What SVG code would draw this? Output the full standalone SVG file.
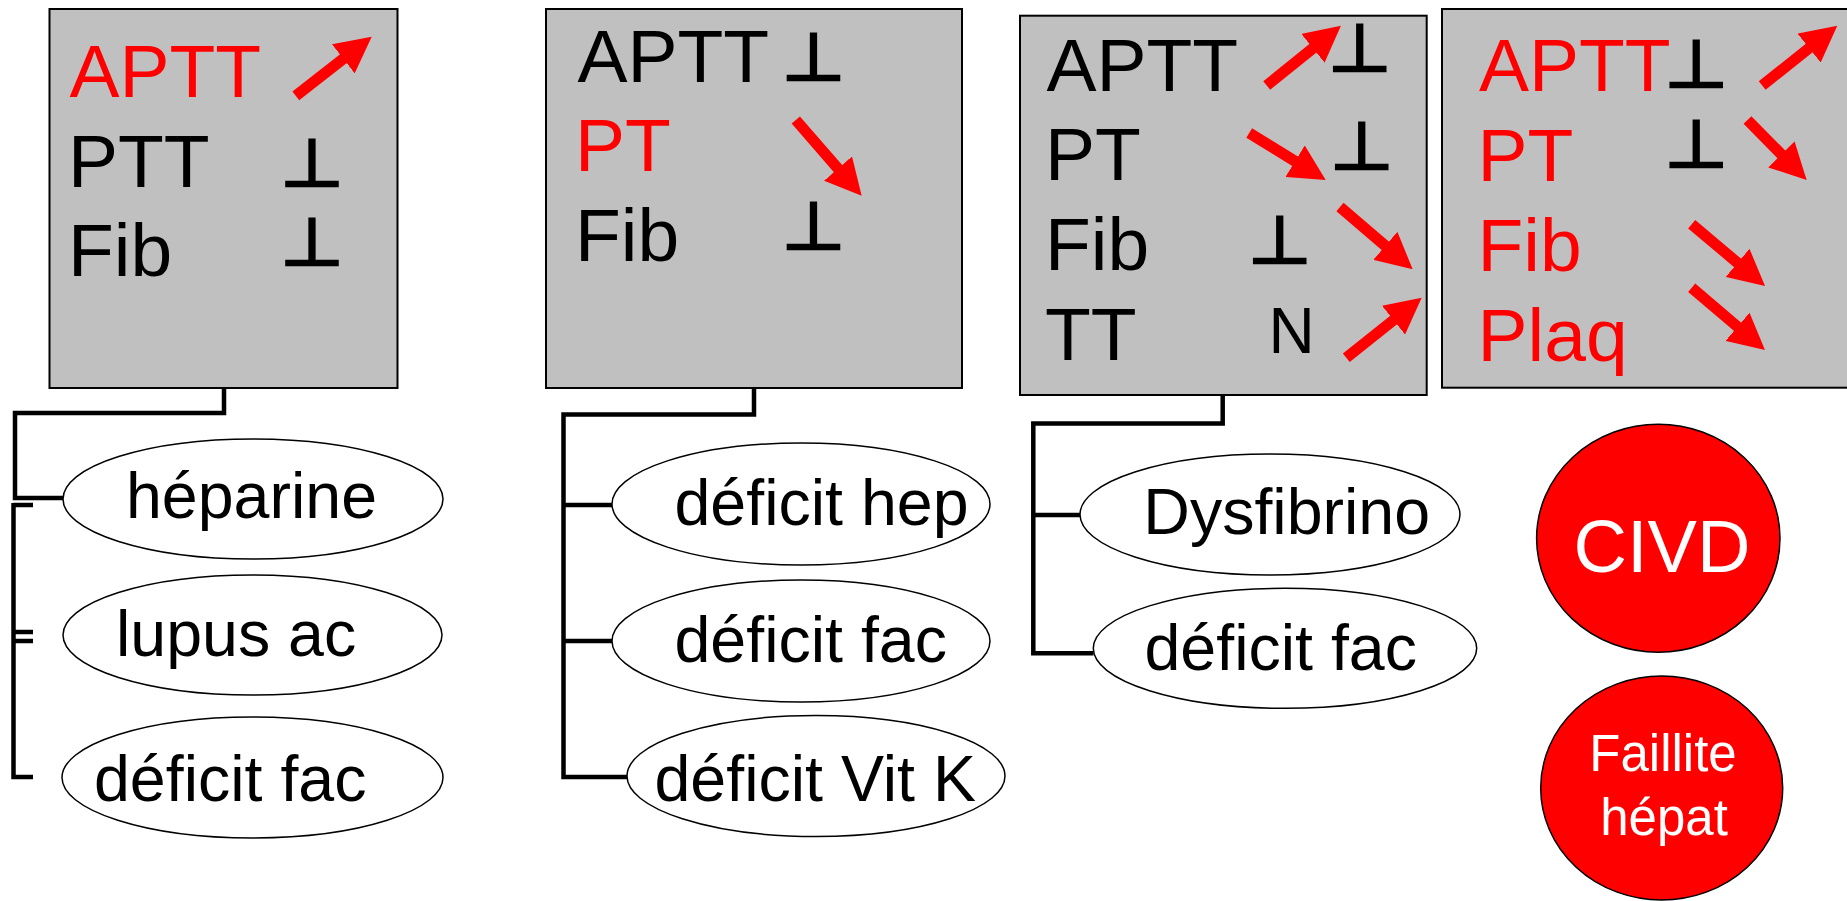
<svg xmlns="http://www.w3.org/2000/svg" width="1847" height="901" viewBox="0 0 1847 901">
<defs>
<style>
.box{fill:#C0C0C0;stroke:#000;stroke-width:2}
.lbl{font-family:"Liberation Sans",Arial,sans-serif;font-size:75px;fill:#000}
.red{fill:#FF0000}
.tack{font-family:"DejaVu Sans",sans-serif;font-size:66px;fill:#000;stroke:#000;stroke-width:2.5;text-anchor:middle}
.ell{fill:#fff;stroke:#000;stroke-width:1.5}
.etx{font-family:"Liberation Sans",Arial,sans-serif;font-size:64.5px;fill:#000}
.arr{stroke:#FF0000;stroke-width:11;fill:none;marker-end:url(#head)}
.con{fill:none;stroke:#000;stroke-width:4.5}
.circ{fill:#FF0000;stroke:#000;stroke-width:1.5}
.ctx{font-family:"Liberation Sans",Arial,sans-serif;fill:#fff;text-anchor:middle}
</style>
<marker id="head" markerUnits="userSpaceOnUse" viewBox="0 0 36 37" markerWidth="36" markerHeight="37" refX="1" refY="18.5" orient="auto">
<path d="M0,0 L36,18.5 L0,37 Z" fill="#FF0000"/>
</marker>
</defs>
<rect width="1847" height="901" fill="#fff"/>

<g id="connectors">
<path class="con" d="M224,388 V413 H15 V498 H63"/>
<path class="con" d="M13.5,503 V777 H33"/>
<path class="con" d="M13.5,505 H33"/>
<path class="con" d="M13.5,632 H33" stroke-width="3"/>
<path class="con" d="M13.5,641 H33" stroke-width="3"/>
<path class="con" d="M754,388 V414.5 H563.5 V777 H627"/>
<path class="con" d="M563.5,505 H612"/>
<path class="con" d="M563.5,641 H612"/>
<path class="con" d="M1222.7,395 V423.5 H1033.3 V653.3 H1093.5"/>
<path class="con" d="M1033.3,515 H1080"/>
</g>

<g id="box1">
<rect class="box" x="49.5" y="9" width="348" height="379"/>
<text class="lbl red" x="69.5" y="97.3">APTT</text>
<text class="lbl" x="68" y="187">PTT</text>
<text class="lbl" x="68" y="276">Fib</text>
<line class="arr" x1="295.8" y1="95.8" x2="344.1" y2="58.2"/>
<text class="tack" transform="translate(311.8,185.5) scale(1.1,1)">⊥</text>
<text class="tack" transform="translate(311.8,264.5) scale(1.1,1)">⊥</text>
</g>

<g id="box2">
<rect class="box" x="546" y="9" width="416" height="379"/>
<text class="lbl" x="577.5" y="81.7">APTT</text>
<text class="lbl red" x="575" y="171">PT</text>
<text class="lbl" x="575" y="260.7">Fib</text>
<line class="arr" x1="795.8" y1="120" x2="838.7" y2="169.3"/>
<text class="tack" transform="translate(813.3,79.5) scale(1.1,1)">⊥</text>
<text class="tack" transform="translate(813.3,249) scale(1.1,1)">⊥</text>
</g>

<g id="box3">
<rect class="box" x="1020" y="15.7" width="406.7" height="379.3"/>
<text class="lbl" x="1046.5" y="90.7">APTT</text>
<text class="lbl" x="1045" y="180">PT</text>
<text class="lbl" x="1045" y="270">Fib</text>
<text class="lbl" x="1045" y="360">TT</text>
<text class="etx" x="1268.5" y="352.7" style="font-size:64px">N</text>
<line class="arr" x1="1266.7" y1="85.5" x2="1313.7" y2="47.6"/>
<line class="arr" x1="1249.2" y1="133" x2="1295.9" y2="161.7"/>
<line class="arr" x1="1340" y1="207" x2="1386.1" y2="246.5"/>
<line class="arr" x1="1346.3" y1="357.8" x2="1394.3" y2="319.5"/>
<text class="tack" transform="translate(1359.7,70.5) scale(1.1,1)">⊥</text>
<text class="tack" transform="translate(1361.5,169) scale(1.1,1)">⊥</text>
<text class="tack" transform="translate(1279.5,263) scale(1.1,1)">⊥</text>
</g>

<g id="box4">
<rect class="box" x="1442" y="9" width="420" height="378.7"/>
<text class="lbl red" x="1479" y="90.7">APTT</text>
<text class="lbl red" x="1477.5" y="180.7">PT</text>
<text class="lbl red" x="1477.5" y="270.7">Fib</text>
<text class="lbl red" x="1477.5" y="360.7">Plaq</text>
<text class="tack" transform="translate(1696,86.5) scale(1.1,1)">⊥</text>
<text class="tack" transform="translate(1696,166.5) scale(1.1,1)">⊥</text>
<line class="arr" x1="1762.2" y1="85.5" x2="1809.9" y2="47.5"/>
<line class="arr" x1="1747.5" y1="120" x2="1782.1" y2="155.1"/>
<line class="arr" x1="1691.7" y1="224.2" x2="1738.3" y2="263.5"/>
<line class="arr" x1="1691.7" y1="287.8" x2="1738.3" y2="327.4"/>
</g>

<g id="heparine">
<ellipse class="ell" cx="253" cy="499" rx="190" ry="60"/>
<text class="etx" x="126" y="518">héparine</text>
</g>
<g id="lupus">
<ellipse class="ell" cx="252.5" cy="635" rx="189.5" ry="60"/>
<text class="etx" x="116" y="656">lupus ac</text>
</g>
<g id="deficit-fac-1">
<ellipse class="ell" cx="252.5" cy="777.5" rx="190.5" ry="60.5"/>
<text class="etx" x="94" y="801">déficit fac</text>
</g>

<g id="deficit-hep">
<ellipse class="ell" cx="801" cy="504" rx="189" ry="61"/>
<text class="etx" x="674.5" y="525">déficit hep</text>
</g>
<g id="deficit-fac-2">
<ellipse class="ell" cx="801" cy="641" rx="189" ry="61"/>
<text class="etx" x="674.5" y="661.7">déficit fac</text>
</g>
<g id="deficit-vitk">
<ellipse class="ell" cx="816" cy="776" rx="189" ry="60.5"/>
<text class="etx" x="654.5" y="800.5">déficit Vit K</text>
</g>

<g id="dysfibrino">
<ellipse class="ell" cx="1270" cy="514.5" rx="190" ry="60.5"/>
<text class="etx" x="1143.3" y="534">Dysfibrino</text>
</g>
<g id="deficit-fac-3">
<ellipse class="ell" cx="1285" cy="648.3" rx="191.7" ry="60"/>
<text class="etx" x="1144.5" y="670">déficit fac</text>
</g>

<g id="civd">
<ellipse class="circ" cx="1658.3" cy="538.3" rx="121.7" ry="114"/>
<text class="ctx" x="1662" y="571.7" style="font-size:74px">CIVD</text>
</g>
<g id="faillite">
<ellipse class="circ" cx="1661.7" cy="788" rx="121" ry="112"/>
<text class="ctx" x="1663" y="770.7" style="font-size:51px">Faillite</text>
<text class="ctx" x="1664" y="835" style="font-size:51px">hépat</text>
</g>
</svg>
